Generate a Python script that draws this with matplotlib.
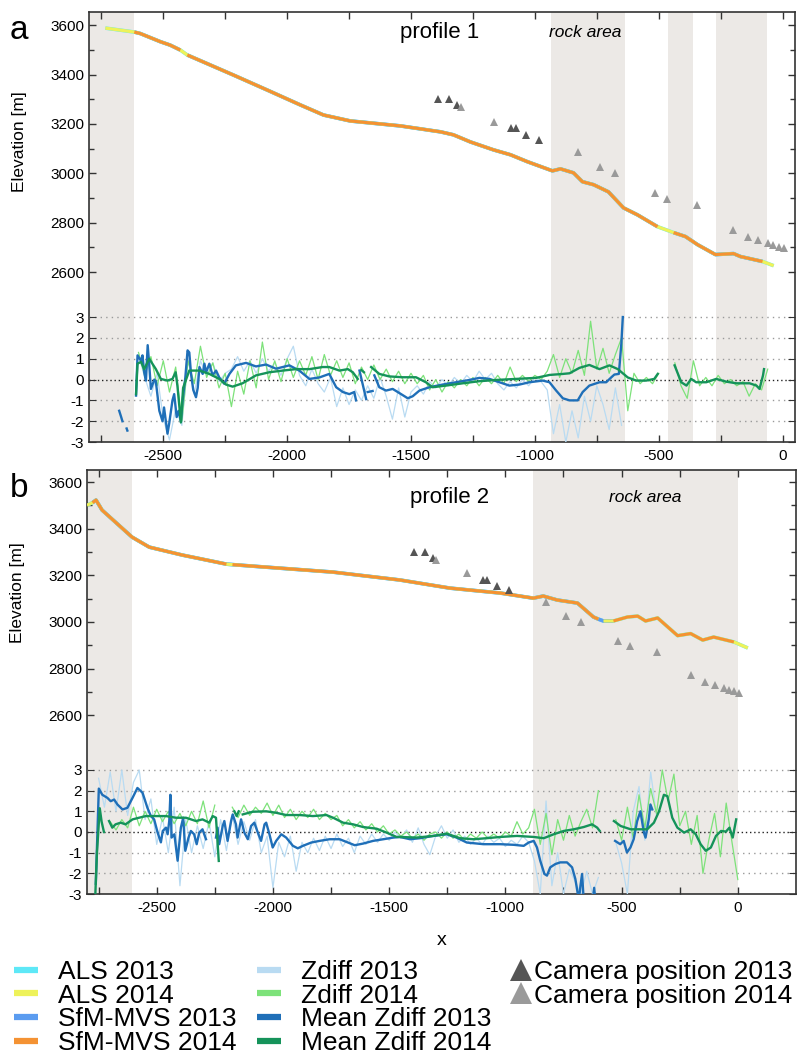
import numpy as np
import matplotlib.pyplot as plt
from matplotlib.lines import Line2D

plt.rcParams['font.family'] = ['Liberation Sans', 'DejaVu Sans']
plt.rcParams['axes.unicode_minus'] = False

C_ALS13 = '#5ee8f7'
C_ALS14 = '#eef25a'
C_SFM13 = '#5b9cf0'
C_SFM14 = '#f49233'
C_Z13 = '#b9dbf2'
C_Z14 = '#7de27a'
C_M13 = '#1f6fb8'
C_M14 = '#15935a'
C_CAM13 = '#555555'
C_CAM14 = '#9a9a9a'
C_SHADE = '#ece9e6'

# camera positions (same in both profiles)
cam13_x = [-1393, -1345, -1313, -1098, -1078, -1034, -985]
cam13_z = [3300, 3300, 3276, 3182, 3182, 3155, 3135]
cam14_x = [-1300, -1163, -826, -739, -675, -517, -465, -346, -202, -141, -100, -60, -37, -16, 4]
cam14_z = [3267, 3209, 3086, 3025, 3001, 2920, 2897, 2872, 2770, 2743, 2730, 2716, 2708, 2703, 2696]

# ---------------- profile 1 ----------------
p1_x = [-2734, -2617, -2593, -2512, -2472, -2431, -2403, -2217, -2080, -1947, -1853, -1745,
        -1543, -1381, -1329, -1260, -1167, -1098, -1030, -929, -897, -844, -808, -763,
        -703, -642, -586, -505, -440, -392, -343, -271, -198, -170, -81, -36]
p1_z = [3588, 3572, 3566, 3533, 3519, 3499, 3479, 3398, 3337, 3277, 3236, 3212,
        3192, 3168, 3156, 3127, 3095, 3075, 3047, 3010, 3018, 3002, 2966, 2954,
        2925, 2860, 2832, 2784, 2760, 2744, 2711, 2671, 2675, 2663, 2643, 2626]
p1_als13 = [(-2734, -36)]
p1_sfm13 = [(-2617, -2431), (-2403, -505), (-440, -81)]
p1_als14 = [(-2734, -36)]
p1_sfm14 = [(-2617, -2431), (-2403, -505), (-440, -81)]
p1_shade = [(-2800, -2618), (-933, -638), (-464, -363), (-267, -61)]

# raw Zdiff, regular 25 m spacing
z13_a_start = -2600
z13_a = [1.2, 0.1, -0.8, 0.3, -1.9, -2.9, -1.4, -2.2, 1.0, -0.7,
         0.9, 0.2, 0.8, -0.1, 0.3, 0.5, 1.1, 0.4, 0.9, 0.3,
         1.0, 0.4, 0.8, 0.2, 1.0, 1.6, 0.2, -0.3, 0.5, -0.2,
         -0.6, 0.1, -1.3, -0.4, -1.2, -0.5, -1.0, -0.3, -0.9, 0.1,
         -0.8, -1.9, -0.4, -1.8, -0.6, -0.3, -0.7, -0.1, -0.4, 0.0,
         -0.3, 0.1, -0.2, 0.2, -0.1, 0.4, 0.0, 0.3, -0.2, -0.5,
         -0.1, -0.4, 0.0, -0.3, 0.1, -0.1, -0.5, -2.6, -1.2, -3.0,
         -1.5, -2.8, -0.8, -2.0, -0.3, -1.2, -2.4, -0.4, -2.2]
z14_a_start = -2600
z14_a = [1.3, 0.2, 1.1, -0.3, 0.9, -0.6, 0.6, -2.0, 0.9, -0.2,
         1.6, 0.1, 0.8, -0.4, 0.3, -1.3, 0.4, -0.7, 0.9, -0.4,
         1.8, 0.0, 0.9, -0.1, 1.0, 0.1, 0.9, 0.2, 1.1, 0.0,
         1.2, 0.2, 0.9, 0.1, 0.8, -0.2, 0.6, 0.0, 0.7, 0.0,
         0.5, -0.1, 0.4, -0.2, 0.3, -0.2, 0.2, -0.5, 0.0, -0.6,
         -0.1, -0.4, 0.0, -0.3, 0.1, -0.3, 0.1, -0.2, 0.2, -0.2,
         0.6, -0.1, 0.2, -0.1, 0.2, 0.0, 0.4, 1.2, 0.1, 1.0,
         0.3, 1.4, 0.2, 2.8, 0.5, 1.5, 0.3, 1.2, 2.0, -1.5,
         0.3, -0.2, 0.1, -0.2, 0.3]
z14_a2_start = -435
z14_a2 = [0.8, -0.3, -0.9, 0.9, -0.3, 0.1, -0.3, 0.2, -0.2, 0.0, -0.3, -0.1, -0.8, -0.2, -0.5, 0.5]

nan = np.nan
m13_a_x = [-2678, -2670, -2665, nan, -2648, -2645, nan,
           -2610, -2604, -2590, -2584, -2577, -2570, -2563, -2557, -2550, -2536, -2530, -2516,
           -2503, -2497, -2483, -2476, -2463, -2456, -2446, -2438, -2429, -2422, -2411, -2402,
           -2395, -2388, -2379, -2368, -2361, -2354, -2341, -2334, -2327, -2314, -2301, -2287,
           -2274, -2254, -2233, -2207, -2166, -2126, -2085, -2045, -1991, -1951, -1910, -1870,
           -1830, -1802, -1775, -1749, -1729, -1722, nan, -1708, -1681, nan, -1675, -1655, nan,
           -1648, -1628, -1601, -1574, -1540, -1513, -1493, -1466, -1426, -1372, -1318, -1264,
           -1224, -1183, -1143, -1103, -1062, -1022, -968, -941, -914, -887, -860, -827, -807,
           -780, -739, -712, -692, -679, -661, -651, -645]
m13_a = [-1.5, -1.8, -2.0, nan, -2.35, -2.45, nan,
         -0.77, 1.16, 0.9, 1.16, 0.35, -0.05, 1.65, 0.76, -0.45, 0.0, -0.1, -1.5,
         -2.0, -1.34, -2.6, -2.1, -1.0, -0.7, -1.8, -1.5, -2.0, -1.0, 0.1, 1.4,
         1.3, 0.27, -0.5, -0.85, -0.4, 0.6, 0.27, 0.76, 0.35, 0.76, 0.2, 0.43,
         0.1, -0.2, 0.27, 0.68, 0.8, 0.63, 0.72, 0.52, 0.68, 0.43, 0.03, 0.1,
         0.27, -0.37, -0.6, -0.7, -0.6, -1.0, nan, 0.43, -0.94, nan, -0.6, -0.55, nan,
         0.2, -0.37, -0.53, -0.45, -0.7, -0.9, -0.8, -0.53, -0.37, -0.24, -0.13, -0.02,
         0.08, 0.03, -0.13, -0.29, -0.24, -0.13, -0.05, -0.13, -0.53, -0.9, -1.0, -1.0, -0.6,
         -0.29, -0.13, -0.13, 0.1, 0.24, 0.27, 1.7, 3.0]
m14_a_x = [-2610, -2604, -2590, -2577, -2557, -2530, -2510, -2483, -2463, -2450, -2443, -2429,
           -2420, -2395, -2354, -2314, -2274, -2247, -2220, -2180, -2126, -2072, -2018, -1964,
           -1910, -1857, -1830, -1789, -1755, -1735, -1715, nan, -1700, -1690, nan,
           -1661, -1628, -1588, -1534, -1480, -1440, -1413, -1359, -1291, -1224, -1157, -1076,
           -995, -941, -887, -860, -820, -780, -739, -699, -665, -625, -591, -551, -518, -504, nan,
           -436, -409, -388, -369, -349, -308, -268, -228, -187, -133, -106, -93, -79, -75]
m14_a = [-0.7, 0.76, 0.85, 0.5, 1.0, 0.5, 0.03, -0.05, 0.03, 0.35, -0.3, -2.06,
         -0.4, 0.43, 0.43, 0.27, 0.03, -0.24, -0.34, -0.18, 0.2, 0.35, 0.43, 0.5,
         0.5, 0.6, 0.6, 0.43, 0.5, 0.35, 0.03, nan, 0.45, 0.35, nan,
         0.6, 0.27, 0.15, 0.11, 0.11, -0.13, -0.37, -0.29, -0.18, -0.08, -0.02, 0.03,
         0.08, 0.22, 0.27, 0.3, 0.56, 0.7, 0.5, 0.68, 0.5, 0.1, -0.05, -0.05, 0.03, 0.27, nan,
         0.68, -0.13, -0.29, 0.03, -0.13, -0.13, 0.03, -0.1, -0.18, -0.18, -0.29, -0.45, 0.2, 0.5]

# ---------------- profile 2 ----------------
p2_x = [-2800, -2776, -2761, -2735, -2606, -2532, -2390, -2200, -2174, -2028, -1743, -1454,
        -1238, -1022, -880, -837, -777, -690, -621, -600, -578, -535, -475, -431, -397,
        -345, -302, -259, -203, -151, -104, -17, 43]
p2_z = [3501, 3512, 3523, 3480, 3364, 3321, 3287, 3248, 3246, 3235, 3214, 3180,
        3145, 3124, 3102, 3111, 3094, 3081, 3021, 3012, 3004, 3004, 3021, 3025, 3004,
        3017, 2979, 2941, 2950, 2922, 2935, 2914, 2888]
p2_als13 = [(-2800, 43)]
p2_sfm13 = [(-2776, -535)]
p2_als14 = [(-2800, -600), (-578, 43)]
p2_sfm14 = [(-2776, -2200), (-2174, -600), (-535, -17)]
p2_shade = [(-2800, -2606), (-880, 0)]

z13_b_start = -2750
z13_b = [2.6, 1.2, 2.9, 1.0, 3.0, 0.8, 2.4, 3.0, 0.6, 1.6,
         -0.6, 0.7, -1.0, 1.2, -2.6, 0.6, -1.0, 0.3, -0.8, 0.5,
         -1.2, 0.6, -0.9, 0.8, -0.6, 0.5, -0.4, 0.6, -1.0, -0.2,
         -2.7, -0.5, -1.2, -0.2, -1.9, -0.5, -1.0, -0.3, -0.9, -0.2,
         -0.8, -0.1, -0.7, -0.3, -1.0, -0.2, -0.6, -0.1, -0.5, -0.1,
         -0.4, 0.0, -0.3, 0.1, -0.5, 0.2, -0.6, -1.1, -0.2, 0.3,
         -0.3, 0.1, -0.5, -0.2, -0.6, -0.3, -0.6, -0.2, -0.5, -0.3,
         -0.7, -0.4, -0.6, -0.2, -0.5, -1.4, -3.0, 1.5, -2.6, -1.0,
         -3.0, -1.8, -2.4, -3.0, -1.9, -3.0, -2.2, nan, nan, -0.5,
         -1.5, -3.0, 1.0, 2.2, -0.4, 2.9, 0.8]
z14_b_start = -2700
z14_b = [0.5, 0.1, 0.6, 0.2, 1.2, 0.3, 1.0, 0.4, 1.1, 0.5,
         1.0, 0.4, 0.9, 0.3, 1.0, 0.4, 1.5, 0.2, 1.3, nan,
         nan, 1.2, 0.7, 1.3, 0.8, 1.2, 0.9, 1.4, 0.8, 1.3,
         0.7, 1.1, 0.6, 1.0, 0.7, 1.1, 0.6, 0.9, 0.6, 0.8,
         0.3, 0.6, 0.2, 0.5, 0.1, 0.4, 0.0, 0.3, -0.1, 0.1,
         -0.2, 0.0, -0.3, -0.1, -0.4, -0.1, 0.0, -0.3, 0.0, -0.3,
         -0.1, -0.4, -0.1, -0.3, 0.0, -0.3, -0.1, -0.3, 0.0, -0.2,
         0.5, -0.1, 0.2, 1.1, -0.6, 0.9, -1.1, 0.6, -0.4, 0.8,
         -0.2, 0.5, 1.1, 0.2, 2.0, nan, nan, 0.6, -0.4, 1.2,
         -0.3, 1.8, 0.2, 2.1, 0.9, 3.0, 1.5, 2.8, 0.3, 1.0,
         -0.6, 0.8, -2.0, -0.4, 0.9, -1.2, 1.4, -0.5, -2.3]

m13_b_x = [-2762, -2749, -2734, -2712, -2698, -2683, -2669, -2647, -2626, -2604, -2583, -2561,
           -2540, -2525, -2511, -2496, -2482, -2474, -2460, -2453, -2446, -2441, -2436, -2424,
           -2410, -2396, -2386, -2377, -2363, -2353, -2339, -2328, -2317, -2303, -2288, nan,
           -2245, -2238, -2231, -2216, -2209, -2195, -2180, -2173, -2159, -2152, -2137, -2123,
           -2108, -2094, -2080, -2065, -2051, -2036, -2029, -2015, -2001, -1986, -1964, -1943,
           -1914, -1893, -1871, -1835, -1799, -1756, -1713, -1677, -1648, -1612, -1569, -1525,
           -1482, -1454, -1410, -1367, -1310, -1253, -1210, -1166, -1094, -1022, -964, -921,
           -900, -878, -864, -850, -832, -821, -807, -785, -764, -735, -713, -699, -684, -677,
           -670, -663, nan, -624, -618, -613, nan,
           -528, -506, -491, -477, -462, -448, -433, -419, -404, -397, -383, -376, -368]
m13_b = [-2.5, 2.1, 1.8, 1.65, 1.49, 1.57, 1.33, 1.09, 1.17, 1.65, 2.13, 1.9,
         1.17, 0.77, 0.61, -0.03, -0.5, 0.05, 0.21, -0.11, 0.53, 1.8, -0.27, -0.11,
         -1.39, 0.21, 0.69, -0.91, -0.27, 0.05, -0.11, -0.59, -0.03, 0.13, -0.35, nan,
         -0.27, 0.21, -0.59, 0.29, 0.53, -0.43, 0.53, 0.85, 0.37, -0.27, 0.61, -0.03,
         -0.35, 0.29, 0.45, -0.03, -0.43, 0.37, 0.45, -0.11, -0.75, -0.43, -0.11, -0.27,
         -0.67, -0.79, -0.67, -0.51, -0.43, -0.35, -0.35, -0.51, -0.64, -0.56, -0.43, -0.35,
         -0.27, -0.24, -0.35, -0.3, -0.19, -0.11, -0.27, -0.51, -0.59, -0.59, -0.62, -0.67,
         -0.51, -0.43, -0.75, -1.39, -2.03, -2.11, -1.71, -1.55, -1.47, -1.47, -1.71, -2.27, -3.3, -2.6,
         -2.03, -3.3, nan, -3.3, -2.7, -3.3, nan,
         -0.43, -0.59, -0.43, -0.99, -0.75, -0.35, 0.53, 1.0, -0.03, -0.27, 0.61, 1.33, 1.09]
m14_b_x = [-2765, -2757, -2745, -2737, -2727, nan,
           -2705, -2691, -2677, -2655, -2634, -2604, -2576, -2547, -2504, -2460, -2417, -2374,
           -2331, -2303, -2274, -2259, -2245, -2233, nan, -2166, -2156, -2147, nan,
           -2130, -2087, -2029, -1986, -1943, -1885, -1828, -1770, -1741, -1698, -1655, -1612,
           -1554, -1511, -1468, -1454, -1382, -1310, -1253, -1195, -1137, -1080, -1022, -950,
           -878, -835, -792, -749, -706, -663, -627, -605, -594, nan,
           -533, -504, -461, -418, -390, -361, -339, -318, -303, -282, -260, -231, -203, -181,
           -160, -138, -116, -94, -72, -51, -36, -22, -7]
m14_b = [-3.3, -1.0, 1.15, 0.5, 0.0, nan,
         0.53, 0.21, 0.37, 0.45, 0.37, 0.61, 0.69, 0.77, 0.77, 0.77, 0.69, 0.69,
         0.53, 0.61, 0.45, 0.77, 0.69, -1.4, nan, 1.0, 0.77, 1.0, nan,
         0.85, 0.98, 1.0, 0.93, 0.82, 0.82, 0.77, 0.82, 0.69, 0.45, 0.37, 0.24,
         0.16, -0.03, -0.24, -0.24, -0.27, -0.19, -0.08, -0.3, -0.35, -0.3, -0.24, -0.19,
         -0.24, -0.3, -0.11, 0.05, 0.13, 0.24, 0.37, 0.21, 0.05, nan,
         0.53, 0.29, 0.13, 0.13, 0.13, 0.45, 1.0, 1.8, 1.73, 0.69, 0.21, -0.03, 0.13, -0.11,
         -0.59, -0.91, -0.75, -0.19, 0.05, 0.02, 0.21, -0.27, 0.61]


def plot_ranges(ax, x, z, ranges, color, lw, zorder):
    x = np.asarray(x, float)
    z = np.asarray(z, float)
    for a, b in ranges:
        m = (x >= a) & (x <= b)
        ax.plot(x[m], z[m], color=color, lw=lw, zorder=zorder, solid_capstyle='butt')


def raw_x(start, vals):
    return start + 25 * np.arange(len(vals))


def draw_panel(rect, xlim, elim, dlim, prof, shade, raws, means, letter, title,
               rock_xy, title_xy, label_y):
    ax = fig.add_axes(rect)
    ax.set_xlim(*xlim)
    ax.set_ylim(*elim)
    for a, b in shade:
        ax.axvspan(a, b, color=C_SHADE, lw=0, zorder=0)
    px, pz, als13, sfm13, als14, sfm14 = prof
    plot_ranges(ax, px, pz, als13, C_ALS13, 2.6, 2)
    plot_ranges(ax, px, pz, sfm13, C_SFM13, 2.6, 3)
    plot_ranges(ax, px, pz, als14, C_ALS14, 2.3, 4)
    plot_ranges(ax, px, pz, sfm14, C_SFM14, 2.2, 5)
    ax.plot(cam13_x, cam13_z, '^', color=C_CAM13, ms=6, mew=0, zorder=6)
    ax.plot(cam14_x, cam14_z, '^', color=C_CAM14, ms=6, mew=0, zorder=6)

    ax.set_yticks([2600, 2800, 3000, 3200, 3400, 3600])
    ax.set_yticks([2700, 2900, 3100, 3300, 3500], minor=True)
    ax.set_xticks([-2500, -2000, -1500, -1000, -500, 0])
    ax.set_xticks([-2750, -2250, -1750, -1250, -750, -250], minor=True)
    ax.tick_params(which='both', direction='in', top=True, right=True, labelsize=11,
                   color='#333333', width=1)
    ax.tick_params(which='major', length=5)
    ax.tick_params(axis='y', which='minor', length=3.5)
    ax.tick_params(axis='x', which='minor', length=5)
    ax.tick_params(axis='x', pad=5)
    for s in ax.spines.values():
        s.set_color('#333333')
        s.set_linewidth(1.2)
    ax.set_ylabel('Elevation [m]', fontsize=12.5)
    ax.yaxis.set_label_coords(-0.088, label_y)

    az = fig.add_axes(rect)
    az.set_xlim(*xlim)
    az.set_ylim(*dlim)
    az.patch.set_visible(False)
    for s in az.spines.values():
        s.set_visible(False)
    az.set_xticks([])
    az.set_yticks([-3, -2, -1, 0, 1, 2, 3])
    az.tick_params(axis='y', direction='in', left=True, right=True, length=5,
                   labelsize=11, color='#333333')
    for v in [-2, -1, 1, 2, 3]:
        az.axhline(v, color='#9a9a9a', lw=1, ls=(0, (1, 3)), zorder=1)
    az.axhline(0, color='#222222', lw=1, ls=(0, (1, 2)), zorder=1)
    for (rx, rz, c) in raws:
        az.plot(rx, rz, color=c, lw=0.9, zorder=2)
    for (mx, mz, c) in means:
        az.plot(mx, mz, color=c, lw=1.7, zorder=3)

    ax.text(title_xy[0], title_xy[1], title, transform=ax.transAxes, fontsize=16,
            ha='center', va='center', zorder=10)
    ax.text(rock_xy[0], rock_xy[1], 'rock area', transform=ax.transAxes, fontsize=12.5,
            style='italic', ha='center', va='center', zorder=10)
    fig.text(0.012, rect[1] + rect[3] - 0.003, letter, fontsize=24, ha='left', va='top')
    return ax


fig = plt.figure(figsize=(8.03, 10.56), dpi=100)

draw_panel([0.1108, 0.5814, 0.8792, 0.4072], (-2800, 50), (1912, 3653), (-3, 17.64),
           (p1_x, p1_z, p1_als13, p1_sfm13, p1_als14, p1_sfm14), p1_shade,
           [(raw_x(z13_a_start, z13_a), z13_a, C_Z13),
            (raw_x(z14_a_start, z14_a), z14_a, C_Z14),
            (raw_x(z14_a2_start, z14_a2), z14_a2, C_Z14)],
           [(m13_a_x, m13_a, C_M13), (m14_a_x, m14_a, C_M14)],
           'a', 'profile 1', (0.703, 0.953), (0.497, 0.953), 0.698)

axb = draw_panel([0.1083, 0.1534, 0.8829, 0.4015], (-2800, 250), (1832, 3652), (-3, 17.51),
                 (p2_x, p2_z, p2_als13, p2_sfm13, p2_als14, p2_sfm14), p2_shade,
                 [(raw_x(z13_b_start, z13_b), z13_b, C_Z13),
                  (raw_x(z14_b_start, z14_b), z14_b, C_Z14)],
                 [(m13_b_x, m13_b, C_M13), (m14_b_x, m14_b, C_M14)],
                 'b', 'profile 2', (0.787, 0.936), (0.512, 0.936), 0.712)
axb.set_xlabel('x', fontsize=14, labelpad=12)

leg_font = {'family': ['Liberation Sans'], 'size': 19}


def bar(c):
    return Line2D([], [], color=c, lw=4.5, solid_capstyle='butt')


leg_kw = dict(loc='upper left', frameon=False, prop=leg_font, handlelength=0.9,
              handletextpad=0.75, labelspacing=-0.01, borderpad=0, borderaxespad=0)
fig.legend([bar(C_ALS13), bar(C_ALS14), bar(C_SFM13), bar(C_SFM14)],
           ['ALS 2013', 'ALS 2014', 'SfM-MVS 2013', 'SfM-MVS 2014'],
           bbox_to_anchor=(0.018, 0.091), **leg_kw)
fig.legend([bar(C_Z13), bar(C_Z14), bar(C_M13), bar(C_M14)],
           ['Zdiff 2013', 'Zdiff 2014', 'Mean Zdiff 2013', 'Mean Zdiff 2014'],
           bbox_to_anchor=(0.32, 0.091), **leg_kw)
cam_kw = dict(leg_kw)
cam_kw['handletextpad'] = 0.1
cam_kw['handlelength'] = 0.8
fig.legend([Line2D([], [], ls='', marker='^', ms=16, color=C_CAM13, mew=0),
            Line2D([], [], ls='', marker='^', ms=16, color=C_CAM14, mew=0)],
           ['Camera position 2013', 'Camera position 2014'],
           bbox_to_anchor=(0.636, 0.091), **cam_kw)

fig.savefig('out.png', dpi=100)
